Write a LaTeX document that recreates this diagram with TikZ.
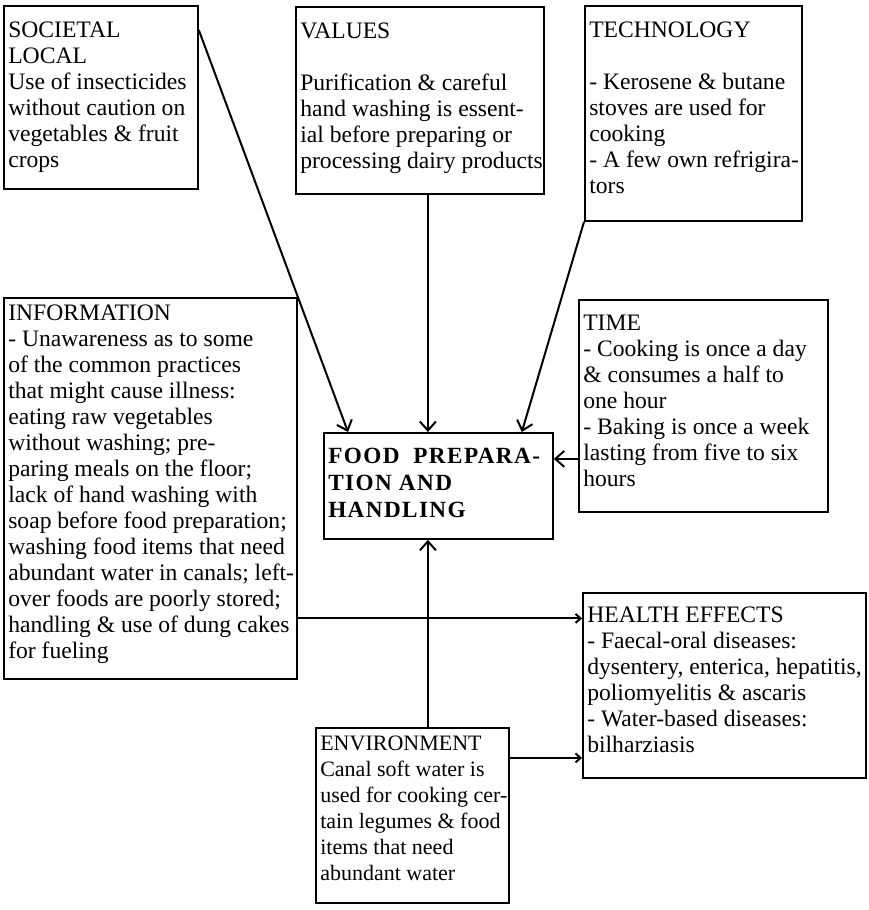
\documentclass[tikz,border=0pt]{standalone}
\usepackage{fontspec}
\setmainfont{Liberation Serif}
\usetikzlibrary{arrows.meta}

% text size used in the boxes (strut set by hand so that tabular rows follow it)
\newcommand{\boxsize}{\fontsize{11.8}{13}\selectfont\setbox\strutbox\hbox{\vrule height 9.1pt depth 3.9pt width 0pt}}
\newcommand{\foodsize}{\fontsize{11.6}{13.5}\selectfont\setbox\strutbox\hbox{\vrule height 9.45pt depth 4.05pt width 0pt}}
% box body: [top gap]{width}{height}{lines}
\newcommand{\boxtext}[4][4.9pt]{\parbox[t][#3][t]{#2}{\vspace*{#1}\begin{tabular}[t]{@{}l@{}}#4\end{tabular}}}

\tikzset{
  box/.style={draw, line width=0.9pt, anchor=north west, inner xsep=2.2pt, inner ysep=2pt, font=\boxsize},
  arr/.style={line width=1pt, -{Straight Barb[length=4.5pt,width=8pt]}},
  smallarr/.style={line width=1pt, -{Straight Barb[length=2.5pt,width=4.5pt]}}
}

\begin{document}
\begin{tikzpicture}[x=0.5pt,y=-0.5pt]
  \useasboundingbox (0,0) rectangle (868,910);

  % Top row
  \node[box] (soc) at (3,5) {\boxtext{92.6pt}{87.5pt}{SOCIETAL\\ LOCAL\\ Use of insecticides\\ without caution on\\ vegetables \& fruit\\ crops}};
  \node[box] (val) at (295,6) {\boxtext{119.6pt}{89.5pt}{VALUES\\ \\ Purification \& careful\\ hand washing is essent-\\ ial before preparing or\\ processing dairy products}};
  \node[box] (tech) at (584,5) {\boxtext{104.1pt}{103.5pt}{TECHNOLOGY\\ \\ - Kerosene \& butane\\ stoves are used for\\ cooking\\ - A few own refrigira-\\ tors}};

  % Middle row
  \node[box] (info) at (3,297) {\boxtext[0.4pt]{142.1pt}{186.5pt}{INFORMATION\\ - Unawareness as to some\\ of the common practices\\ that might cause illness:\\ eating raw vegetables\\ without washing; pre-\\ paring meals on the floor;\\ lack of hand washing with\\ soap before food preparation;\\ washing food items that need\\ abundant water in canals; left-\\ over foods are poorly stored;\\ handling \& use of dung cakes\\ for fueling}};
  \node[box] (time) at (578,299) {\boxtext[4.4pt]{120.1pt}{102pt}{TIME\\ - Cooking is once a day\\ \& consumes a half to\\ one hour\\ - Baking is once a week\\ lasting from five to six\\ hours}};

  % Central box
  \node[box, font=\foodsize\bfseries\addfontfeature{LetterSpace=6}] (food) at (323,432) {\boxtext[4pt]{110.1pt}{49pt}{FOOD\hspace{0.6em}PREPARA-\\ TION AND\\ HANDLING}};

  % Bottom row
  \node[box] (health) at (582,592) {\boxtext[3.9pt]{137.1pt}{88.5pt}{HEALTH EFFECTS\\ - Faecal-oral diseases:\\ dysentery, enterica, hepatitis,\\ poliomyelitis \& ascaris\\ - Water-based diseases:\\ bilharziasis}};
  \node[box, font={\boxsize\fontsize{11}{13}\selectfont}] (env) at (315,727) {\boxtext[0.4pt]{92.1pt}{83.5pt}{ENVIRONMENT\\ Canal soft water is\\ used for cooking cer-\\ tain legumes \& food\\ items that need\\ abundant water}};

  % Arrows into the central box
  \draw[arr] ([yshift=-12.5pt]soc.north east) -- ([xshift=12.5pt]food.north west);
  \draw[arr] ([xshift=4pt]val.south) -- ([xshift=4pt]val.south |- food.north);
  \draw[arr] (tech.south west) -- ([xshift=-16pt]food.north east);
  \draw[arr] ([yshift=-26.5pt]time.west) coordinate (t1) -- (t1 -| food.east);
  \draw[arr] ([xshift=4pt]val.south |- env.north) -- ([xshift=4pt]val.south |- food.south);

  % Arrows into health effects
  \draw[smallarr] ([yshift=-65pt]info.east) coordinate (i1) -- (i1 -| health.west);
  \draw[smallarr] ([yshift=28.75pt]env.east) coordinate (e1) -- (e1 -| health.west);
\end{tikzpicture}
\end{document}
